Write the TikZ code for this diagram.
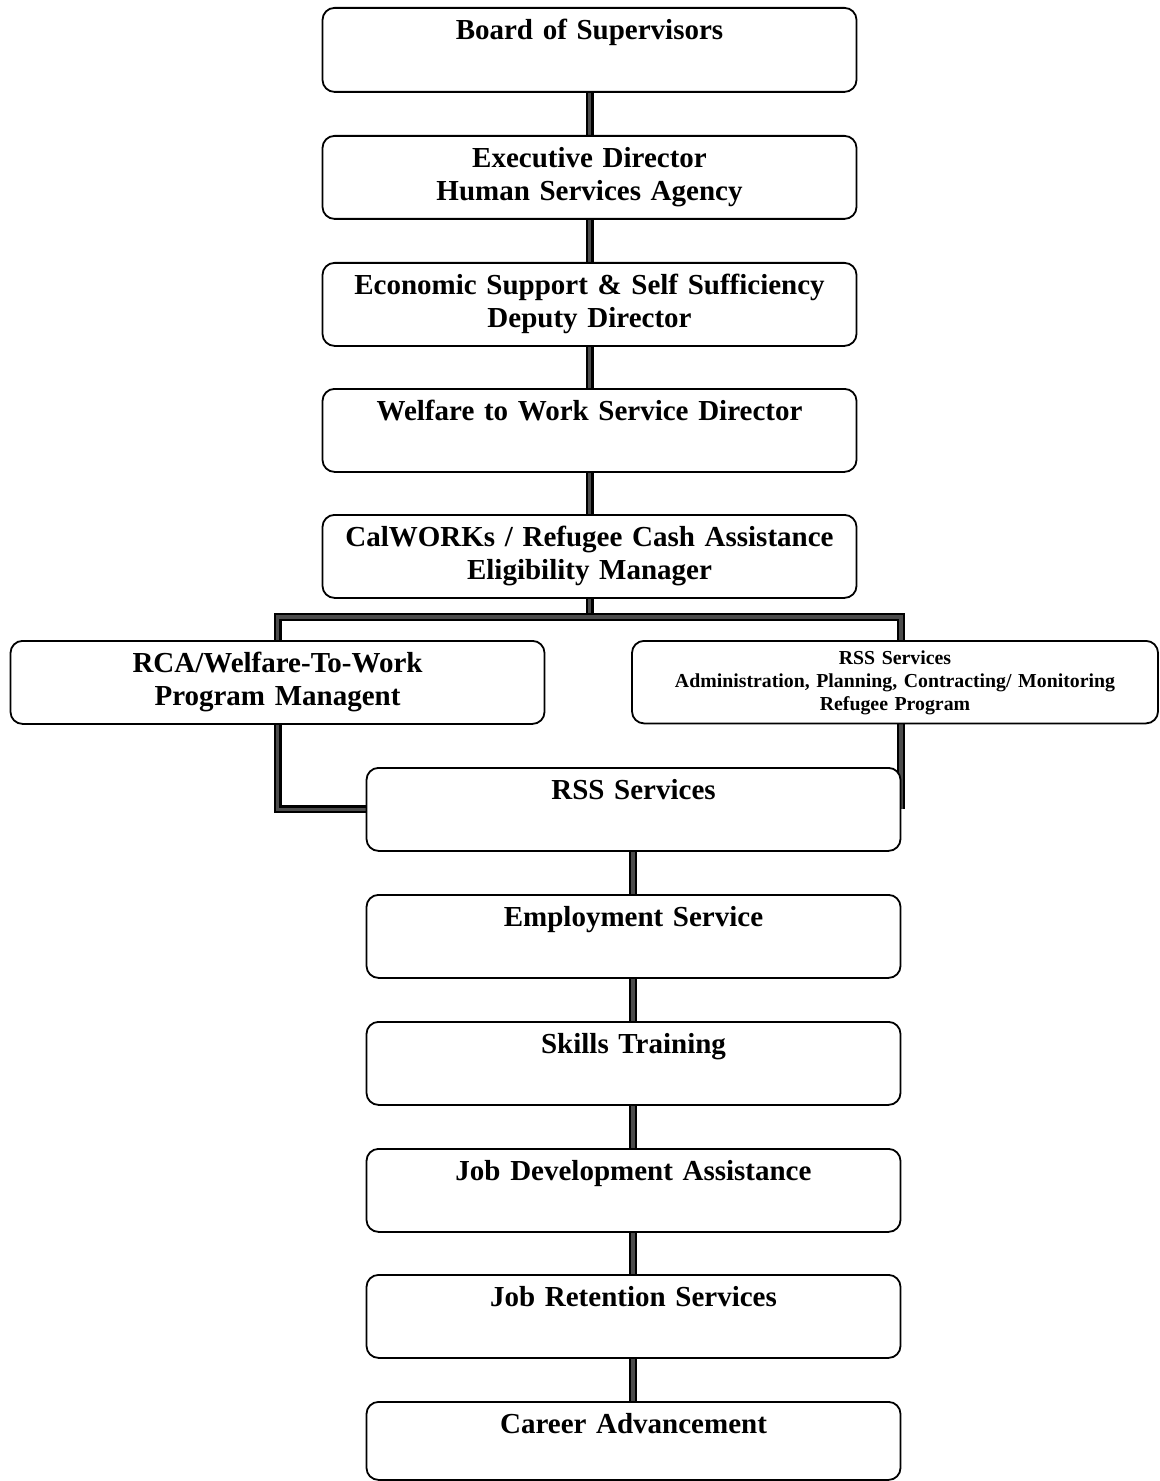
\documentclass[tikz,border=0pt]{standalone}
\usepackage{fontspec}
\setmainfont{Liberation Serif}
\usetikzlibrary{backgrounds}
\begin{document}
\begin{tikzpicture}[x=0.5pt,y=-0.5pt,
  orgbox/.style={draw=black, line width=0.9pt, rounded corners=6pt, fill=white,
    anchor=north, inner xsep=0pt, inner ysep=0pt, align=center,
    minimum width=267pt, text width=262pt,
    text height=16pt, text depth=25.5pt,
    font=\bfseries\fontsize{14.5}{16.5}\selectfont},
  smallbox/.style={orgbox, minimum width=263pt, text width=258pt,
    text height=11.75pt, text depth=29.5pt,
    font=\bfseries\fontsize{9.9}{11.5}\selectfont},
  conn/.style={draw=black, line width=1.2pt, double=black!70, double distance=1.6pt, line join=miter}
]
\useasboundingbox (0,0) rectangle (1160,1481);
\clip (0,0) rectangle (1160,1481);
% top column
\node[orgbox, text depth=26pt] (board) at (589.5,7) {Board of Supervisors};
\node[orgbox] (exec) at (589.5,135) {Executive Director\\Human Services Agency};
\node[orgbox] (econ) at (589.5,262) {Economic Support \& Self Sufficiency\\Deputy Director};
\node[orgbox] (wtw) at (589.5,388) {Welfare to Work Service Director};
\node[orgbox] (calw) at (589.5,514) {CalWORKs / Refugee Cash Assistance\\Eligibility Manager};
% middle
\node[orgbox] (rca) at (277.5,640) {RCA/Welfare-To-Work\\Program Managent};
\node[smallbox] (admin) at (895,640) {RSS Services\\Administration, Planning, Contracting/ Monitoring\\Refugee Program};
% bottom column
\node[orgbox] (rss) at (633.5,767) {RSS Services};
\node[orgbox] (emp) at (633.5,894) {Employment Service};
\node[orgbox] (skill) at (633.5,1021) {Skills Training};
\node[orgbox] (jobdev) at (633.5,1148) {Job Development Assistance};
\node[orgbox] (retain) at (633.5,1274) {Job Retention Services};
\node[orgbox, text depth=23pt] (career) at (633.5,1401) {Career Advancement};
\coordinate (bar) at (589.5,617);
\coordinate (rtop) at (901,617);
\begin{scope}[on background layer]
  \draw[conn] (board.south) -- (exec.north);
  \draw[conn] (exec.south) -- (econ.north);
  \draw[conn] (econ.south) -- (wtw.north);
  \draw[conn] (wtw.south) -- (calw.north);
  \draw[conn] (calw.south) -- (bar);
  \draw[conn] (rca.north) |- (rtop) -- (rtop |- admin.north);
  \draw[conn] (rca.south) |- (rss.west);
  \draw[conn] (rtop |- admin.south) -- (rtop |- rss.east);
  \draw[conn] (rss.south -| 633,0) -- (emp.north -| 633,0);
  \draw[conn] (emp.south -| 633,0) -- (skill.north -| 633,0);
  \draw[conn] (skill.south -| 633,0) -- (jobdev.north -| 633,0);
  \draw[conn] (jobdev.south -| 633,0) -- (retain.north -| 633,0);
  \draw[conn] (retain.south -| 633,0) -- (career.north -| 633,0);
\end{scope}
\end{tikzpicture}
\end{document}
